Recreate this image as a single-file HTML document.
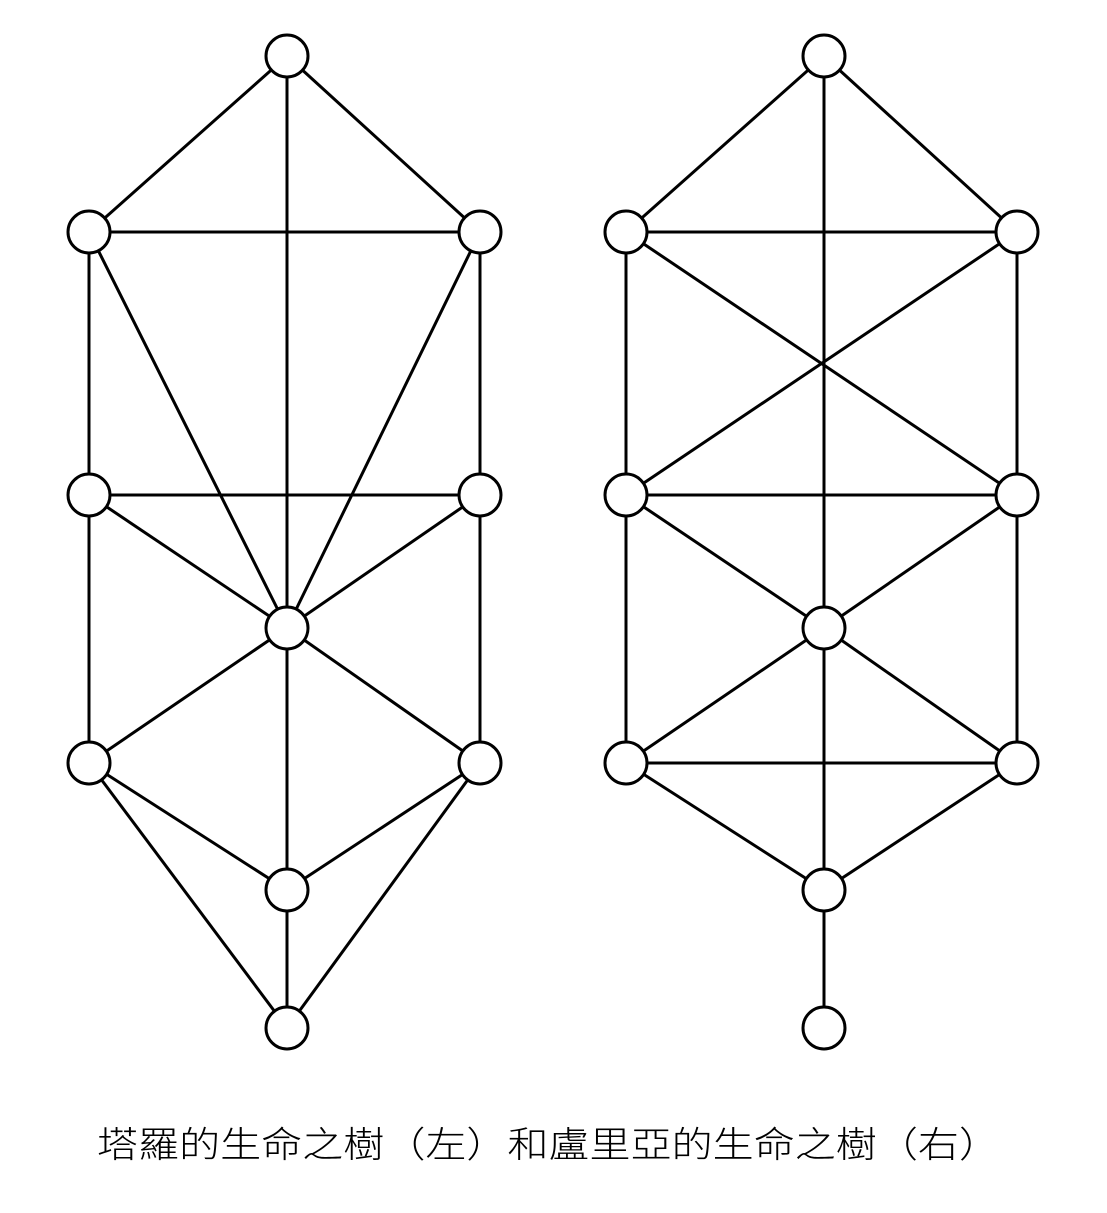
<!DOCTYPE html>
<html><head><meta charset="utf-8"><style>
html,body{margin:0;padding:0;background:#fff;width:1107px;height:1213px;overflow:hidden}
</style></head><body>
<svg id="chart" width="1107" height="1213" viewBox="0 0 1107 1213" xmlns="http://www.w3.org/2000/svg">
<g id="edges" stroke="#000" stroke-width="3" fill="none"></g>
<g id="nodes" stroke="#000" stroke-width="3" fill="#fff"></g>
<text x="97" y="1157" textLength="903" lengthAdjust="spacingAndGlyphs" font-size="36" font-weight="300" font-family="'Liberation Sans','Noto Sans CJK TC',sans-serif" fill="#000">塔羅的生命之樹（左）和盧里亞的生命之樹（右）</text>
</svg>
<script>
const nodeX = [287,89,480,89,480,287,89,480,287,287];
const nodeY = [56,232,232,495,495,628,763,763,890,1028];
const treeOffsets = [0,537];
const treeNames = ['tarot','luria'];
const leftEdges = [[0,1],[0,2],[0,5],[1,2],[1,3],[2,4],[1,5],[2,5],[3,4],[3,5],[4,5],[3,6],[4,7],[5,6],[5,7],[5,8],[6,8],[7,8],[6,9],[7,9],[8,9]];
const rightEdges = [[0,1],[0,2],[0,5],[1,2],[1,3],[2,4],[1,4],[2,3],[3,4],[3,5],[4,5],[3,6],[4,7],[5,6],[5,7],[6,7],[5,8],[6,8],[7,8],[8,9]];
const edgeSets = [leftEdges,rightEdges];
const R = 21;
const NS='http://www.w3.org/2000/svg';
const eg=document.getElementById('edges'), ng=document.getElementById('nodes');
treeOffsets.forEach((off,t)=>{
  edgeSets[t].forEach(([a,b])=>{
    const l=document.createElementNS(NS,'line');
    l.setAttribute('x1',nodeX[a]+off);l.setAttribute('y1',nodeY[a]);
    l.setAttribute('x2',nodeX[b]+off);l.setAttribute('y2',nodeY[b]);
    
    
    eg.appendChild(l);
  });
  nodeX.forEach((x,i)=>{
    const c=document.createElementNS(NS,'circle');
    c.setAttribute('cx',x+off);c.setAttribute('cy',nodeY[i]);c.setAttribute('r',R);
    
    
    ng.appendChild(c);
  });
});
</script>
</body></html>
